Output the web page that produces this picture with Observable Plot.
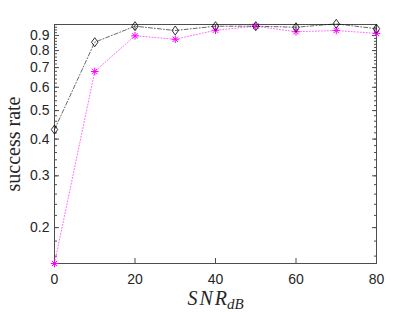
<!DOCTYPE html>
<html><head><meta charset="utf-8">
<script src="https://cdn.jsdelivr.net/npm/d3@7"></script>
<script src="https://cdn.jsdelivr.net/npm/@observablehq/plot@0.6"></script>
<style>body{margin:0;background:#fff;overflow:hidden}</style>
</head><body><div id="chart"></div>
<script>
const snr = [0, 10, 20, 30, 40, 50, 60, 70, 80];
const rateDiamond = [0.431, 0.854, 0.968, 0.936, 0.968, 0.968, 0.960, 0.986, 0.949];
const rateStar = [0.151, 0.679, 0.898, 0.874, 0.938, 0.968, 0.927, 0.936, 0.915];
const xTicks = [0, 20, 40, 60, 80];
const yTicks = [0.2, 0.3, 0.4, 0.5, 0.6, 0.7, 0.8, 0.9];
const yMinorTicks = [0.16,0.18,0.2,0.22,0.24,0.26,0.28,0.3,0.32,0.34,0.36,0.38,0.4,0.42,0.44,0.46,0.48,0.5,0.52,0.54,0.56,0.58,0.6,0.62,0.64,0.66,0.68,0.7,0.72,0.74,0.76,0.78,0.8,0.82,0.84,0.86,0.88,0.9,0.92,0.94,0.96,0.98];
const yLabel = "success rate";
const xLabelMain = "SNR";
const xLabelSub = "dB";

const dataDiamond = snr.map((s, i) => ({snr: s, rate: rateDiamond[i]}));
const dataStar = snr.map((s, i) => ({snr: s, rate: rateStar[i]}));

const diamondSymbol = {
  draw(ctx, size) {
    const r = Math.sqrt(size / Math.PI);
    const w = r * 0.75, h = r * 1.05;
    ctx.moveTo(0, -h); ctx.lineTo(w, 0); ctx.lineTo(0, h); ctx.lineTo(-w, 0); ctx.closePath();
  }
};
const starSymbol = {
  draw(ctx, size) {
    const r = Math.sqrt(size / Math.PI);
    const d = r * 0.7071;
    ctx.moveTo(-r, 0); ctx.lineTo(r, 0);
    ctx.moveTo(0, -r); ctx.lineTo(0, r);
    ctx.moveTo(-d, -d); ctx.lineTo(d, d);
    ctx.moveTo(-d, d); ctx.lineTo(d, -d);
  }
};

const axisColor = "#4d4d4d";
const textColor = "#262626";
const serif = "'Liberation Serif', 'Times New Roman', serif";

const chart = Plot.plot({
  width: 415,
  height: 312,
  marginLeft: 54,
  marginRight: 39,
  marginTop: 24,
  marginBottom: 49,
  style: {fontFamily: "'Liberation Sans', Arial, sans-serif", fontSize: "14px", color: textColor, background: "#fff"},
  x: {domain: [0, 80]},
  y: {type: "log", domain: [0.151, 0.981]},
  marks: [
    Plot.frame({stroke: axisColor, strokeWidth: 1}),
    Plot.axisX({ticks: xTicks, tickSize: 0, tickPadding: 11, label: null, fontSize: 14, fill: textColor}),
    Plot.axisY({ticks: yTicks, tickSize: 0, tickPadding: 5, label: null, fontSize: 14, fill: textColor, tickFormat: d => String(d)}),
    Plot.axisX({ticks: xTicks, anchor: "bottom", tickSize: 5, dy: -5, tickFormat: () => "", label: null, stroke: axisColor}),
    Plot.axisX({ticks: xTicks, anchor: "top", tickSize: 5, dy: 5, tickFormat: () => "", label: null, stroke: axisColor}),
    Plot.axisY({ticks: yTicks, anchor: "left", tickSize: 5, dx: 5, tickFormat: () => "", label: null, stroke: axisColor}),
    Plot.axisY({ticks: yTicks, anchor: "right", tickSize: 5, dx: -5, tickFormat: () => "", label: null, stroke: axisColor}),
    Plot.axisY({ticks: yMinorTicks, anchor: "left", tickSize: 3, dx: 3, tickFormat: () => "", label: null, stroke: axisColor}),
    Plot.axisY({ticks: yMinorTicks, anchor: "right", tickSize: 3, dx: -3, tickFormat: () => "", label: null, stroke: axisColor}),
    Plot.line(dataStar, {x: "snr", y: "rate", stroke: "#ff00ff", strokeWidth: 0.6, strokeDasharray: "1,2"}),
    Plot.dot(dataStar, {x: "snr", y: "rate", symbol: starSymbol, r: 3.8, stroke: "#ff00ff", strokeWidth: 1}),
    Plot.line(dataDiamond, {x: "snr", y: "rate", stroke: "#000", strokeWidth: 0.6, strokeDasharray: "4,2,1,2"}),
    Plot.dot(dataDiamond, {x: "snr", y: "rate", symbol: diamondSymbol, r: 4.3, stroke: "#000", strokeWidth: 0.8, fill: "none"}),
    Plot.text([yLabel], {text: d => d, frameAnchor: "left", textAnchor: "middle", rotate: -90, dx: -41, fontFamily: serif, fontSize: 20, fill: textColor}),
    Plot.text([xLabelMain], {text: d => d, frameAnchor: "bottom", textAnchor: "middle", lineAnchor: "top", dy: 27, fontFamily: serif, fontStyle: "italic", fontSize: 20, fill: textColor})
  ]
});

d3.select(chart).selectAll("text").filter(function() { return this.textContent === xLabelMain; })
  .each(function() {
    const t = d3.select(this);
    t.text(null);
    t.append("tspan").attr("letter-spacing", "2px").text(xLabelMain);
    t.append("tspan").attr("dy", 4).attr("dx", -2).attr("font-size", 15).text(xLabelSub);
  });

document.getElementById("chart").appendChild(chart);
</script>
</body></html>
